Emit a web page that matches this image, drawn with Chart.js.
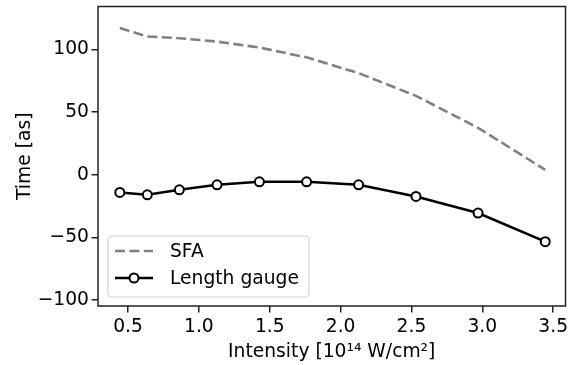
<!DOCTYPE html>
<html>
<head>
<meta charset="utf-8">
<script src="https://cdn.jsdelivr.net/npm/chart.js@4.4.1/dist/chart.umd.min.js"></script>
<style>
  html, body { margin: 0; padding: 0; background: #fff; }
  #wrap { width: 572px; height: 365px; }
</style>
</head>
<body>
<div id="wrap"><canvas id="grafico" width="572" height="365"></canvas></div>
<script>
// datos
const intensidad = [0.442, 0.636, 0.862, 1.128, 1.427, 1.76, 2.127, 2.532, 2.97, 3.444];
const sfa = [117.2, 110.5, 109.1, 106.4, 101.6, 93.8, 81.2, 63.0, 37.5, 4.0];
const lengthGauge = [-14.1, -16.0, -12.0, -8.0, -5.6, -5.6, -8.0, -17.3, -30.6, -53.4];
const xTicks = [0.5, 1.0, 1.5, 2.0, 2.5, 3.0, 3.5];
const yTicks = [-100, -50, 0, 50, 100];
const etiquetas = ['SFA', 'Length gauge'];

const FUENTE = 'DejaVu Sans';
const TAM = 18.7;

function puntos(xs, ys) {
    return xs.map((x, i) => ({ x: x, y: ys[i] }));
}

// marco completo y leyenda dentro del area
const marcoLeyenda = {
    id: 'marcoLeyenda',
    afterDraw(chart) {
        const ctx = chart.ctx;
        const a = chart.chartArea;
        ctx.save();
        ctx.strokeStyle = '#222';
        ctx.lineWidth = 1.5;
        ctx.strokeRect(a.left, a.top, a.right - a.left, a.bottom - a.top);

        // leyenda
        const bx = a.left + 10, by = a.bottom - 70, bw = 201, bh = 61;
        ctx.beginPath();
        ctx.roundRect(bx, by, bw, bh, 4);
        ctx.fillStyle = 'rgba(255,255,255,0.8)';
        ctx.fill();
        ctx.strokeStyle = '#d0d0d0';
        ctx.lineWidth = 1.2;
        ctx.stroke();

        const x0 = bx + 7, x1 = bx + 45, tx = bx + 62;
        const filas = [by + 15, by + 42];
        ctx.font = TAM + 'px "' + FUENTE + '"';
        ctx.textBaseline = 'middle';
        ctx.fillStyle = '#000';

        // SFA
        ctx.beginPath();
        ctx.setLineDash([10, 4.4]);
        ctx.strokeStyle = '#808080';
        ctx.lineWidth = 2.6;
        ctx.moveTo(x0, filas[0]);
        ctx.lineTo(x1, filas[0]);
        ctx.stroke();
        ctx.setLineDash([]);
        ctx.fillText(etiquetas[0], tx, filas[0] + 1);

        // Length gauge
        ctx.beginPath();
        ctx.strokeStyle = '#000';
        ctx.lineWidth = 2.6;
        ctx.moveTo(x0, filas[1]);
        ctx.lineTo(x1, filas[1]);
        ctx.stroke();
        ctx.beginPath();
        ctx.arc((x0 + x1) / 2, filas[1], 4.5, 0, Math.PI * 2);
        ctx.fillStyle = '#fff';
        ctx.fill();
        ctx.lineWidth = 2;
        ctx.stroke();
        ctx.fillStyle = '#000';
        ctx.fillText(etiquetas[1], tx, filas[1] + 1);
        ctx.restore();
    }
};

document.addEventListener('DOMContentLoaded', function () {
    const canvas = document.getElementById('grafico');
    const ctx = canvas.getContext('2d');

    new Chart(ctx, {
        type: 'line',
        data: {
            datasets: [
                {
                    label: etiquetas[0],
                    data: puntos(intensidad, sfa),
                    borderColor: '#808080',
                    borderDash: [10, 4.4],
                    borderWidth: 2.6,
                    pointRadius: 0,
                    fill: false,
                    tension: 0
                },
                {
                    label: etiquetas[1],
                    data: puntos(intensidad, lengthGauge),
                    borderColor: '#000',
                    borderWidth: 2.6,
                    pointRadius: 4.5,
                    pointBorderWidth: 2,
                    pointBackgroundColor: '#fff',
                    pointBorderColor: '#000',
                    fill: false,
                    tension: 0
                }
            ]
        },
        options: {
            responsive: false,
            animation: false,
            layout: { padding: { top: 6, right: 2, left: 0, bottom: 0 } },
            scales: {
                x: {
                    type: 'linear',
                    min: 0.288,
                    max: 3.587,
                    afterBuildTicks: s => { s.ticks = xTicks.map(v => ({ value: v })); },
                    afterFit: s => { s.height = 59; s.paddingLeft = 0; s.paddingRight = 0; },
                    border: { display: false },
                    grid: { drawOnChartArea: false, drawTicks: true, tickLength: 6.5, color: '#222', lineWidth: 1.5 },
                    ticks: {
                        color: '#000',
                        padding: 3,
                        maxRotation: 0,
                        font: { family: FUENTE, size: TAM },
                        callback: v => v.toFixed(1)
                    },
                    title: {
                        display: true,
                        text: 'Intensity [10\u00B9\u2074 W/cm\u00B2]',
                        color: '#000',
                        font: { family: FUENTE, size: TAM },
                        padding: { top: 0, bottom: 2 }
                    }
                },
                y: {
                    min: -104.8,
                    max: 134.4,
                    afterBuildTicks: s => { s.ticks = yTicks.map(v => ({ value: v })); },
                    afterFit: s => { s.width = 98; s.paddingTop = 0; s.paddingBottom = 0; },
                    border: { display: false },
                    grid: { drawOnChartArea: false, drawTicks: true, tickLength: 6.5, color: '#222', lineWidth: 1.5 },
                    ticks: {
                        color: '#000',
                        padding: 2.5,
                        font: { family: FUENTE, size: TAM },
                        callback: v => (v < 0 ? '\u2212' + Math.abs(v) : String(v))
                    },
                    title: {
                        display: true,
                        text: 'Time [as]',
                        color: '#000',
                        font: { family: FUENTE, size: TAM },
                        padding: { top: 14, bottom: 0 }
                    }
                }
            },
            plugins: {
                legend: { display: false },
                tooltip: { enabled: false }
            }
        },
        plugins: [marcoLeyenda]
    });
});
</script>
</body>
</html>
